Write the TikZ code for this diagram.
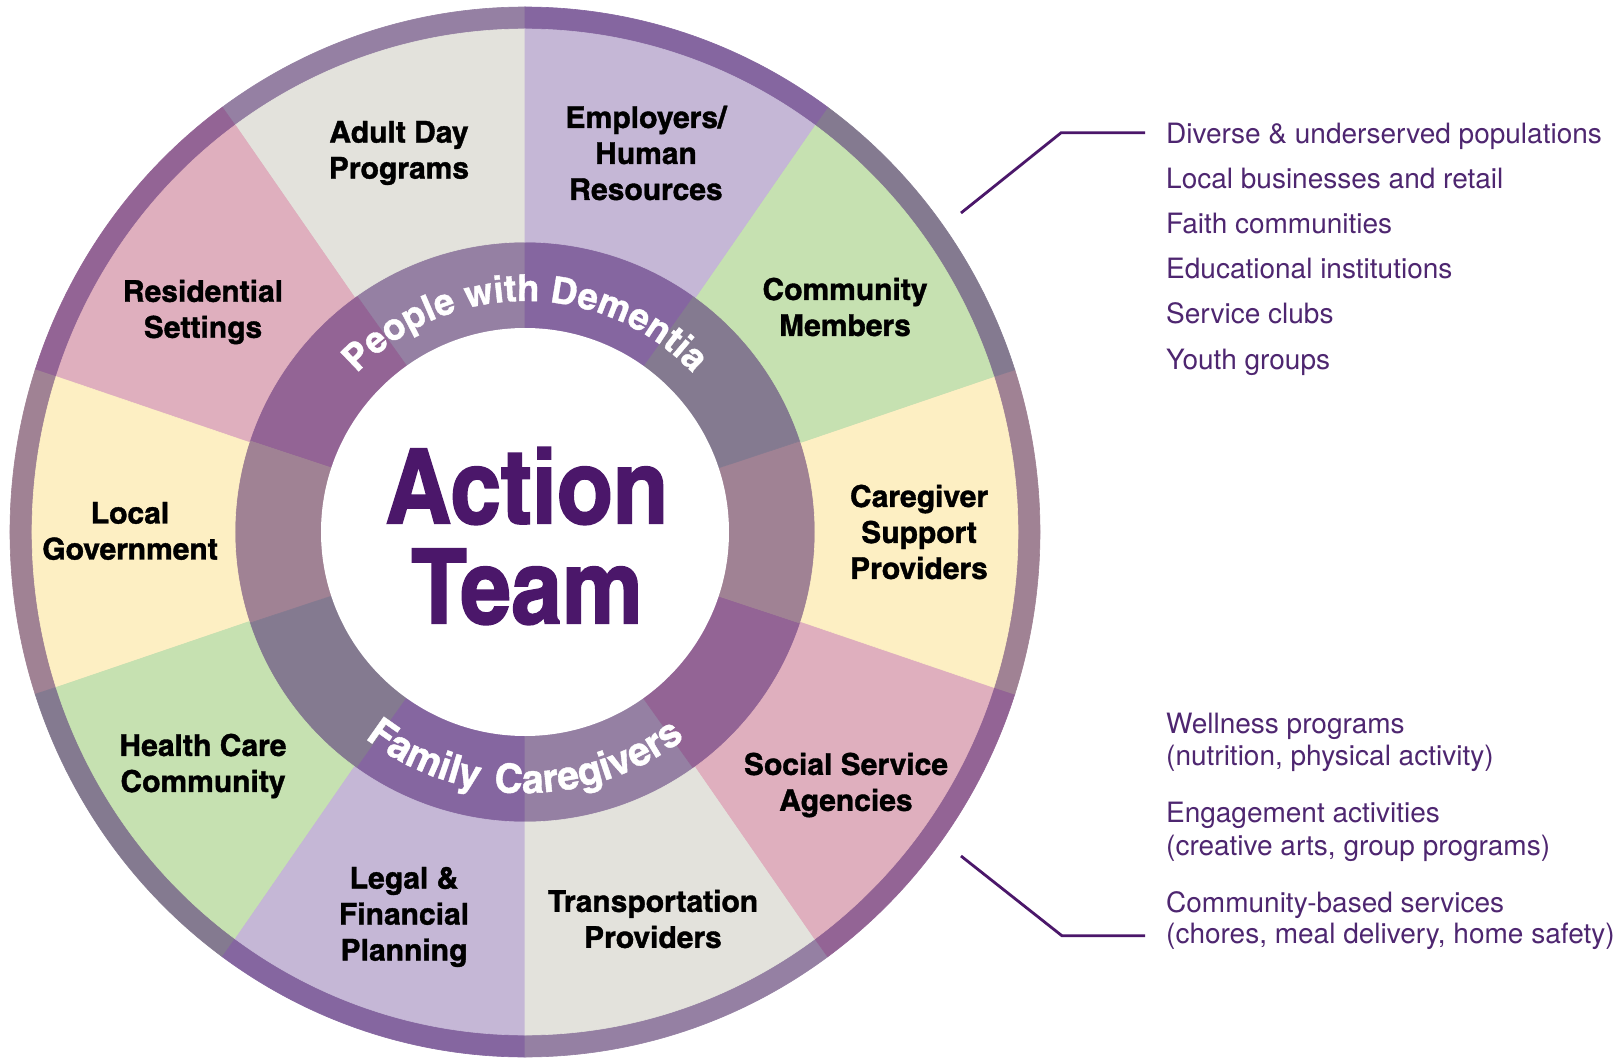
\documentclass[tikz,border=0pt]{standalone}
\usepackage{fontspec}
\setmainfont{TeX Gyre Heros}
\newfontfamily\cnfont{texgyreheroscn}[Extension=.otf, UprightFont=*-bold, FakeStretch=1.22, FakeBold=1.2]
\newfontfamily\titlefont{texgyreheroscn}[Extension=.otf, UprightFont=*-bold, FakeStretch=1.07, FakeBold=1.6]
\newfontfamily\ringface{texgyreheroscn}[Extension=.otf, UprightFont=*-bold, FakeStretch=1.2, FakeBold=1]
\newfontfamily\ringwide{texgyreheroscn}[Extension=.otf, UprightFont=*-bold, FakeStretch=1.2, FakeBold=1, LetterSpace=13]
\usetikzlibrary{decorations.text}

% wheel tones: darker band shade and lighter sector fill
\definecolor{bandgrey}{RGB}{149,128,163}
\definecolor{fillgrey}{RGB}{227,226,220}
\definecolor{bandpink}{RGB}{147,100,149}
\definecolor{fillpink}{RGB}{223,175,190}
\definecolor{bandsand}{RGB}{160,130,148}
\definecolor{fillsand}{RGB}{253,239,195}
\definecolor{bandsage}{RGB}{132,122,144}
\definecolor{fillsage}{RGB}{198,225,177}
\definecolor{bandlilac}{RGB}{133,102,160}
\definecolor{filllilac}{RGB}{197,183,214}
\definecolor{teampurple}{RGB}{75,23,106}
\definecolor{listpurple}{RGB}{78,38,112}

\newcommand\ringfont{\ringface\fontsize{37}{37}\selectfont\color{white}}
\newcommand\ringfontwide{\ringwide\fontsize{40}{40}\selectfont\color{white}}

\begin{document}
\begin{tikzpicture}[
  x=1pt, y=1pt,
  sector/.style={
    font=\cnfont\fontsize{30}{36}\selectfont,
    align=center, text=black, inner sep=0pt
  },
  listline/.style={
    font=\fontsize{28}{34}\selectfont, text=listpurple,
    anchor=base west, inner sep=0pt
  },
  leader/.style={
    draw=teampurple, line width=2.8pt
  }
]

\useasboundingbox (-525,-526) rectangle (1092,532);
\fill[white] (-525,-526) rectangle (1092,532);

% Ten sectors: band shade out to the rim first ...
\foreach \a/\tone [evaluate=\a as \b using \a+36] in
    {90/grey,126/pink,162/sand,198/sage,234/lilac,270/grey,306/pink,342/sand,378/sage,414/lilac}
  \filldraw[band\tone, line width=0.6pt] (0,0) -- (\a:515pt and 525pt)
    arc[start angle=\a, end angle=\b, x radius=515pt, y radius=525pt] -- cycle;

% ... then the light fill between ring and band
\foreach \a/\tone [evaluate=\a as \b using \a+36] in
    {90/grey,126/pink,162/sand,198/sage,234/lilac,270/grey,306/pink,342/sand,378/sage,414/lilac}
  \filldraw[fill\tone, line width=0.6pt] (\a:290pt) -- (\a:493pt and 503pt)
    arc[start angle=\a, end angle=\b, x radius=493pt, y radius=503pt]
    -- (\b:290pt) arc[start angle=\b, end angle=\a, radius=290pt] -- cycle;

% Centre
\fill[white] (0,0) circle[radius=204pt];
\node[font=\titlefont\fontsize{104}{100}\selectfont, text=teampurple,
      align=center, inner sep=0pt] (team) at (2,-4) {Action\\Team};

% Ring captions
\path[decorate, decoration={text along path, text align=center,
      text={|\ringfont|People with Dementia}}]
  (135:231pt) arc[start angle=135, end angle=45, radius=231pt];
\path[decorate, decoration={text along path, text align=center,
      text={|\ringfontwide|Family Caregivers}}]
  (222:261pt) arc[start angle=222, end angle=318, radius=261pt];

% Sector labels
\node[sector] (adult)   at (-126, 379) {Adult Day\\Programs};
\node[sector] (employ)  at (121, 379)  {Employers/\\Human\\Resources};
\node[sector] (members) at (320, 225)  {Community\\Members};
\node[sector] (resid)   at (-322, 220) {Residential\\Settings};
\node[sector] (govt)    at (-395, 1)   {Local\\Government};
\node[sector] (carer)   at (394, 0)    {Caregiver\\Support\\Providers};
\node[sector] (health)  at (-322, -234){Health Care\\Community};
\node[sector] (social)  at (321, -253) {Social Service\\Agencies};
\node[sector] (legal)   at (-121, -385){Legal \&\\Financial\\Planning};
\node[sector] (trans)   at (128, -387) {Transportation\\Providers};

% Community partners
\node[listline] (div)   at (641, 388) {Diverse \& underserved populations};
\node[listline] (biz)   at (641, 343) {Local businesses and retail};
\node[listline] (faith) at (641, 298) {Faith communities};
\node[listline] (edu)   at (641, 253) {Educational institutions};
\node[listline] (clubs) at (641, 208) {Service clubs};
\node[listline] (youth) at (641, 163) {Youth groups};

% Service programs
\node[listline] (well)    at (641, -201) {Wellness programs};
\node[listline] (wellx)   at (641, -233) {(nutrition, physical activity)};
\node[listline] (engage)  at (641, -290) {Engagement activities};
\node[listline] (engagex) at (641, -323) {(creative arts, group programs)};
\node[listline] (cbs)     at (641, -380) {Community-based services};
\node[listline] (cbsx)    at (641, -411) {(chores, meal delivery, home safety)};

% Leaders from the rim
\coordinate (upfoot)  at (436, 319);
\coordinate (lowfoot) at (436, -324);
\draw[leader] (upfoot) -- ([shift={(-105,4)}]div.west) -- ([shift={(-21,4)}]div.west);
\draw[leader] (lowfoot) -- ([xshift=-104pt]cbsx.west) -- ([xshift=-21pt]cbsx.west);

\end{tikzpicture}
\end{document}
